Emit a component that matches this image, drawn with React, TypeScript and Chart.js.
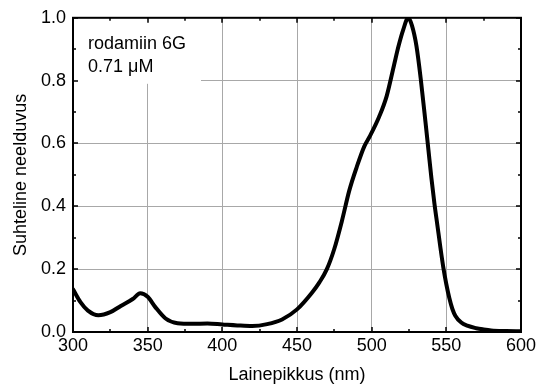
import React, { useEffect, useRef } from 'react';
import { Chart, registerables } from 'chart.js';

Chart.register(...registerables);

const wavelengths = [300, 305, 310, 317, 325, 332, 340, 345, 350, 355, 362, 370, 380, 390, 400, 410, 420, 430, 440, 450, 460, 465, 470, 475, 480, 485, 490, 495, 499, 505, 510, 515, 518, 521, 524.5, 527, 530, 533, 536, 538, 540, 542, 544, 546, 548, 550, 552, 554, 556, 560, 564, 570, 575, 580, 590, 600];
const absorbance = [0.136, 0.095, 0.068, 0.053, 0.063, 0.083, 0.105, 0.123, 0.112, 0.08, 0.043, 0.028, 0.026, 0.027, 0.024, 0.021, 0.019, 0.025, 0.04, 0.072, 0.125, 0.158, 0.2, 0.265, 0.352, 0.45, 0.525, 0.59, 0.625, 0.685, 0.75, 0.85, 0.91, 0.96, 1.0, 0.975, 0.91, 0.8, 0.67, 0.58, 0.49, 0.41, 0.34, 0.27, 0.205, 0.152, 0.108, 0.074, 0.052, 0.03, 0.02, 0.012, 0.008, 0.005, 0.003, 0.002];

const xMin = 300;
const xMax = 600;
const xStep = 50;
const yMin = 0;
const yMax = 1;
const yStep = 0.2;

const annotationLines = ['rodamiin 6G', '0.71 μM'];
const xTitle = 'Lainepikkus (nm)';
const yTitle = 'Suhteline neelduvus';

const FONT = '"Liberation Sans", Arial, Helvetica, sans-serif';

const framePlugin = {
  id: 'frameAndLabel',
  beforeDatasetsDraw(chart: any) {
    const { ctx, chartArea: a } = chart;
    ctx.save();
    ctx.fillStyle = '#ffffff';
    ctx.fillRect(a.left + 1, a.top + 1, 127, 65);
    ctx.fillStyle = '#000000';
    ctx.font = `18px ${FONT}`;
    ctx.textBaseline = 'alphabetic';
    ctx.textAlign = 'left';
    ctx.fillText(annotationLines[0], a.left + 15, a.top + 31);
    ctx.fillText(annotationLines[1], a.left + 15, a.top + 54);
    ctx.restore();
  },
  afterDatasetsDraw(chart: any) {
    const { ctx, chartArea: a, scales } = chart;
    const xs = scales.x;
    const ys = scales.y;
    ctx.save();
    ctx.strokeStyle = '#000000';
    ctx.lineWidth = 2;
    ctx.strokeRect(a.left, a.top, a.right - a.left, a.bottom - a.top);
    ctx.lineWidth = 1.5;
    ctx.beginPath();
    for (let v = xMin; v <= xMax; v += xStep / 2) {
      const px = Math.round(xs.getPixelForValue(v));
      const len = (v - xMin) % xStep === 0 ? 5 : 3;
      ctx.moveTo(px, a.bottom);
      ctx.lineTo(px, a.bottom - len);
      ctx.moveTo(px, a.top);
      ctx.lineTo(px, a.top + len);
    }
    for (let i = 0; i <= 10; i++) {
      const v = yMin + (i * yStep) / 2;
      const py = Math.round(ys.getPixelForValue(v));
      const len = i % 2 === 0 ? 5 : 3;
      ctx.moveTo(a.left, py);
      ctx.lineTo(a.left + len, py);
      ctx.moveTo(a.right, py);
      ctx.lineTo(a.right - len, py);
    }
    ctx.stroke();
    ctx.restore();
  },
};

export default function App() {
  const ref = useRef<HTMLCanvasElement>(null);
  useEffect(() => {
    document.body.style.margin = '0';
    const canvas = ref.current;
    if (!canvas) return;
    const gridColor = (c: any, min: number, max: number) => {
      const v = c.tick ? c.tick.value : null;
      if (v === null || Math.abs(v - min) < 1e-9 || Math.abs(v - max) < 1e-9) return 'rgba(0,0,0,0)';
      return '#a8a8a8';
    };
    const chart = new Chart(canvas, {
      type: 'line',
      data: {
        datasets: [
          {
            data: wavelengths.map((w, i) => ({ x: w, y: absorbance[i] })),
            borderColor: '#000000',
            borderWidth: 4,
            pointRadius: 0,
            fill: false,
            cubicInterpolationMode: 'monotone',
            borderJoinStyle: 'round',
            borderCapStyle: 'round',
          },
        ],
      },
      options: {
        animation: false,
        responsive: false,
        devicePixelRatio: 1,
        layout: { padding: { left: 0, right: 28, top: 14.2, bottom: 0 } },
        plugins: { legend: { display: false }, tooltip: { enabled: false } },
        scales: {
          x: {
            type: 'linear',
            min: xMin,
            max: xMax,
            ticks: {
              stepSize: xStep,
              color: '#000',
              font: { family: FONT, size: 18 },
              padding: 3,
              maxRotation: 0,
              autoSkip: false,
            },
            grid: { drawTicks: false, color: (c: any) => gridColor(c, xMin, xMax), lineWidth: 1 },
            border: { display: false },
            title: {
              display: true,
              text: xTitle,
              color: '#000',
              font: { family: FONT, size: 18 },
              padding: { top: 0, bottom: 0 },
            },
            afterFit: (s: any) => {
              s.height = 54;
            },
          },
          y: {
            type: 'linear',
            min: yMin,
            max: yMax,
            ticks: {
              stepSize: yStep,
              color: '#000',
              font: { family: FONT, size: 18 },
              padding: 7,
              callback: (v: any) => Number(v).toFixed(1),
            },
            grid: { drawTicks: false, color: (c: any) => gridColor(c, yMin, yMax), lineWidth: 1 },
            border: { display: false },
            title: {
              display: true,
              text: yTitle,
              color: '#000',
              font: { family: FONT, size: 18 },
              padding: { top: 10, bottom: 0 },
            },
            afterFit: (s: any) => {
              s.width = 73;
            },
          },
        },
      },
      plugins: [framePlugin],
    } as any);
    return () => chart.destroy();
  }, []);
  return (
    <div style={{ position: 'absolute', left: 0, top: 0, width: 549, height: 386 }}>
      <canvas ref={ref} width={549} height={386} />
    </div>
  );
}
